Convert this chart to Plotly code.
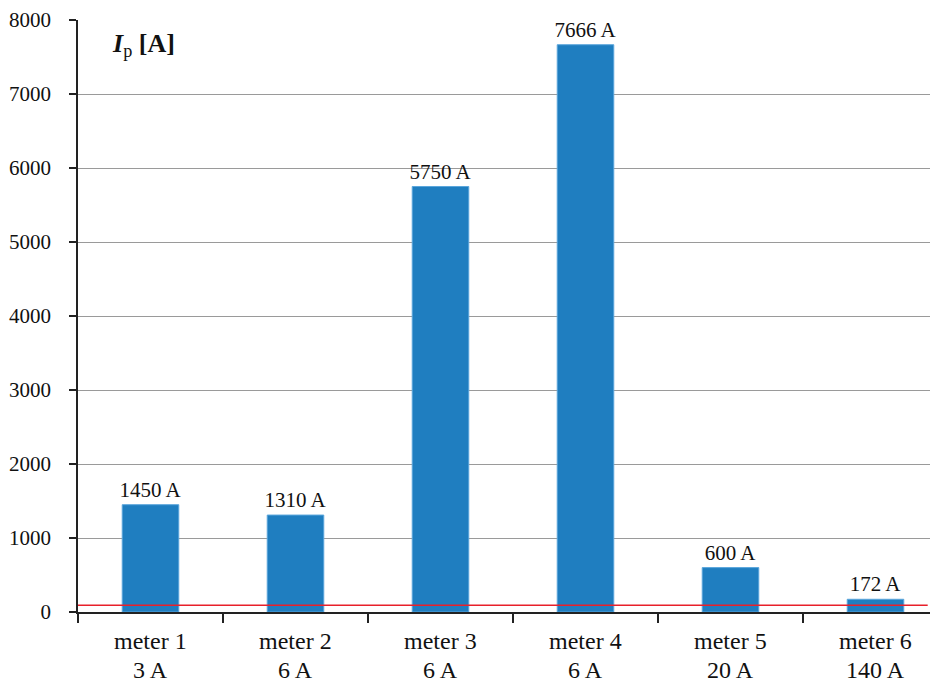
import plotly.graph_objects as go

meters = ["meter 1", "meter 2", "meter 3", "meter 4", "meter 5", "meter 6"]
ratings = ["3 A", "6 A", "6 A", "6 A", "20 A", "140 A"]
ip_values = [1450, 1310, 5750, 7666, 600, 172]
bar_labels = ["1450 A", "1310 A", "5750 A", "7666 A", "600 A", "172 A"]
threshold = 90
y_ticks = [0, 1000, 2000, 3000, 4000, 5000, 6000, 7000, 8000]

FONT = "Liberation Serif"

fig = go.Figure()
fig.add_trace(go.Bar(
    x=meters, y=ip_values, width=0.39,
    marker=dict(color="#1f7ec0", line=dict(color="#5aa6dc", width=1)),
    text=bar_labels, textposition="outside", cliponaxis=False, constraintext="none",
    textfont=dict(family=FONT, size=21, color="#111"),
    showlegend=False,
))

fig.add_shape(type="line", xref="x", yref="y", x0=-0.5, x1=5.36,
              y0=threshold, y1=threshold, line=dict(color="#e8202a", width=1.5))

for m, r in zip(meters, ratings):
    fig.add_annotation(x=m, y=0, xref="x", yref="paper", text=m, showarrow=False, borderpad=0,
                       yanchor="middle", yshift=-29, font=dict(family=FONT, size=24, color="#111"))
    fig.add_annotation(x=m, y=0, xref="x", yref="paper", text=r, showarrow=False, borderpad=0,
                       yanchor="middle", yshift=-58, font=dict(family=FONT, size=24, color="#111"))

fig.add_annotation(x=0.037, y=0.958, xref="paper", yref="paper", xanchor="left", yanchor="middle",
                   text="<b><i>I</i></b><sub>p</sub><b> [A]</b>", showarrow=False,
                   font=dict(family=FONT, size=26, color="#111"))

# page body has an 8px margin, so the figure is offset by 8px
fig.update_layout(
    width=930, height=675,
    margin=dict(l=70, r=0, t=12, b=71),
    plot_bgcolor="white", paper_bgcolor="white",
    bargap=0.6,
)
fig.update_xaxes(
    type="category", range=[-0.5, 5.431], showticklabels=False,
    tickson="boundaries", ticks="outside", ticklen=9, tickcolor="#222", tickwidth=1.5,
    showline=True, linecolor="#222", linewidth=1.5, showgrid=False, zeroline=False,
)
fig.update_yaxes(
    range=[0, 8000], tickvals=y_ticks, ticks="outside", ticklen=7, tickcolor="#222", tickwidth=1.5,
    showline=True, linecolor="#222", linewidth=1.5,
    showgrid=True, gridcolor="#9a9a9a", gridwidth=1, zeroline=False,
    tickfont=dict(family=FONT, size=21, color="#111"), ticklabelstandoff=14,
)

fig.write_html("out.html")
